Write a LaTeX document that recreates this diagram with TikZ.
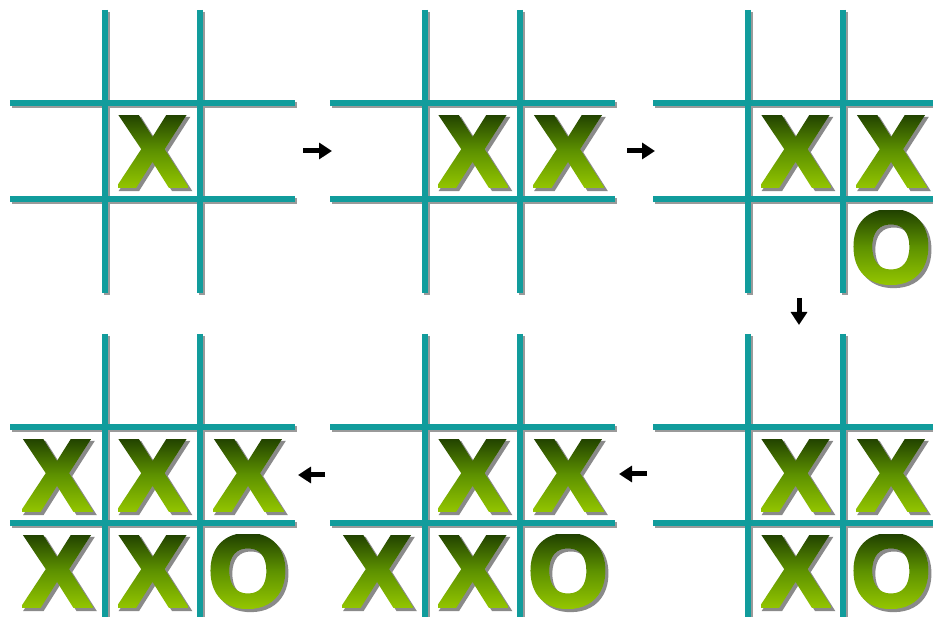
\documentclass[tikz,border=0pt]{standalone}
\usepackage{fontspec}
\setmainfont{Liberation Sans}
\newfontface\piecefamily[FakeBold=4]{Liberation Sans Bold}
\usetikzlibrary{fadings,arrows.meta}
\definecolor{gridteal}{HTML}{119C9C}
\definecolor{gridshade}{HTML}{9A9A9A}
\definecolor{gtop}{HTML}{183600}
\definecolor{gmid}{HTML}{5E9200}
\definecolor{gbot}{HTML}{9ACC00}
\definecolor{lettershadow}{HTML}{8A8A8A}
\newcommand\piecefont{\piecefamily\fontsize{102}{102}\selectfont}
\tikzset{
  gridline/.style={line width=6pt, draw=gridteal},
  gridlineshadow/.style={line width=6pt, draw=gridshade, shift={(2,-2)}},
  shadowtext/.style={inner sep=0pt, text=lettershadow, font=\piecefont},
  lettershade/.style={top color=gtop, bottom color=gbot, middle color=gmid, draw=none},
  flowarrow/.style={line width=5pt, -{Triangle[length=13pt,width=16pt]}},
}
% one board: #1 = name, #2 = x shift, #3 = y shift
\newcommand\tttboard[3]{%
  \begin{scope}[shift={(#2,#3)}]
    \draw[gridlineshadow] (105,607) -- (105,324) (200,607) -- (200,324)
                          (10,514) -- (295,514) (10,418) -- (295,418);
    \draw[gridline] (105,607) -- (105,324) (200,607) -- (200,324)
                    (10,514) -- (295,514) (10,418) -- (295,418);
    \coordinate (#1) at (152.5,466);
  \end{scope}}
% one piece: #1 = node name, #2 = letter, #3,#4 = board shift, #5,#6 = centre in board
\newcommand\tttpiece[6]{%
  \node[shadowtext] (#1) at ({#3+#5+3},{#4+#6-3}) {#2};
  \begin{scope}[transform canvas={shift={({#3+#5},{#4+#6})}}]
    \shade[path fading=fade#2, fit fading=false, lettershade] (-47,-42) rectangle (47,42);
  \end{scope}}
\begin{document}
\pgfdeclarefading{fadeX}{\color{white}\piecefont X}%
\pgfdeclarefading{fadeO}{\color{white}\piecefont O}%
\begin{tikzpicture}[x=1pt,y=1pt]
\useasboundingbox (0,0) rectangle (933,617);
\fill[white] (0,0) rectangle (933,617);
\clip (0,0) rectangle (933,617);
% boards
\tttboard{bA}{0}{0}
\tttboard{bB}{320}{0}
\tttboard{bC}{643}{0}
\tttboard{bD}{643}{-324}
\tttboard{bE}{320}{-324}
\tttboard{bF}{0}{-324}
% pieces, board A
\tttpiece{A5}{X}{0}{0}{152.5}{466}
% board B
\tttpiece{B5}{X}{320}{0}{152.5}{466}
\tttpiece{B6}{X}{320}{0}{248}{466}
% board C
\tttpiece{C5}{X}{643}{0}{152.5}{466}
\tttpiece{C6}{X}{643}{0}{248}{466}
\tttpiece{C9}{O}{643}{0}{248}{370}
% board D
\tttpiece{D5}{X}{643}{-324}{152.5}{466}
\tttpiece{D6}{X}{643}{-324}{248}{466}
\tttpiece{D8}{X}{643}{-324}{152.5}{370}
\tttpiece{D9}{O}{643}{-324}{248}{370}
% board E
\tttpiece{E5}{X}{320}{-324}{152.5}{466}
\tttpiece{E6}{X}{320}{-324}{248}{466}
\tttpiece{E7}{X}{320}{-324}{57}{370}
\tttpiece{E8}{X}{320}{-324}{152.5}{370}
\tttpiece{E9}{O}{320}{-324}{248}{370}
% board F
\tttpiece{F4}{X}{0}{-324}{57}{466}
\tttpiece{F5}{X}{0}{-324}{152.5}{466}
\tttpiece{F6}{X}{0}{-324}{248}{466}
\tttpiece{F7}{X}{0}{-324}{57}{370}
\tttpiece{F8}{X}{0}{-324}{152.5}{370}
\tttpiece{F9}{O}{0}{-324}{248}{370}
% arrows between boards
\coordinate (a1s) at (303,466);  \coordinate (a1e) at (332,466);
\coordinate (a2s) at (627,466);  \coordinate (a2e) at (655,466);
\coordinate (a3s) at (799,319);  \coordinate (a3e) at (799,292);
\coordinate (a4s) at (325,142);  \coordinate (a4e) at (298,142);
\coordinate (a5s) at (647,143);  \coordinate (a5e) at (619,143);
\draw[flowarrow] (a1s) -- (a1e);
\draw[flowarrow] (a2s) -- (a2e);
\draw[flowarrow] (a3s) -- (a3e);
\draw[flowarrow] (a4s) -- (a4e);
\draw[flowarrow] (a5s) -- (a5e);
\end{tikzpicture}
\end{document}
